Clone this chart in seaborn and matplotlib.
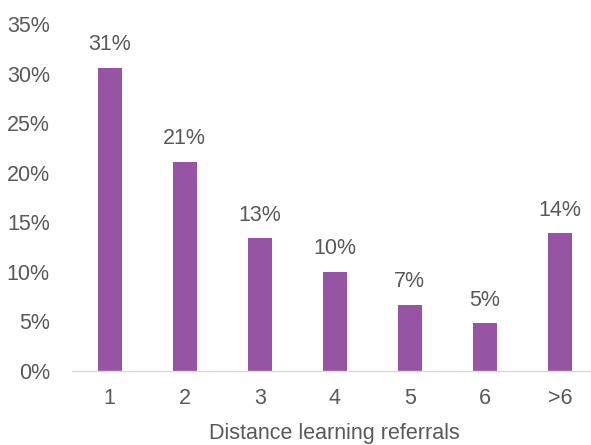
import matplotlib
matplotlib.use("Agg")
import matplotlib.pyplot as plt
import seaborn as sns
import pandas as pd
import numpy as np

categories = ["1", "2", "3", "4", "5", "6", ">6"]
shares = [30.6, 21.1, 13.4, 10.0, 6.7, 4.8, 13.9]
y_ticks = [0, 5, 10, 15, 20, 25, 30, 35]

df = pd.DataFrame({"referrals": categories, "share": shares})

sns.set_theme(style="white")
plt.rcParams["font.family"] = ["Liberation Sans Narrow", "Liberation Sans", "DejaVu Sans"]

text_color = "#595959"
bar_color = "#9655A3"
fs = 15.5

fig = plt.figure(figsize=(5.91, 4.45), dpi=100)
ax = fig.add_axes([72 / 591, 74 / 445, (597.5 - 72) / 591, (371 - 24) / 445])

sns.barplot(data=df, x="referrals", y="share", color=bar_color, width=0.32,
            saturation=1, ax=ax, edgecolor="none")

ax.set_ylim(0, 35)
ax.set_xlim(-0.5, 6.5)
ax.set_yticks(y_ticks)
ax.set_yticklabels([f"{v}%" for v in y_ticks], fontsize=fs, color=text_color)
ax.tick_params(axis="y", length=0, pad=16)

# category boundaries carry the tick marks, centres carry the labels
ax.set_xticks(np.arange(-0.5, 7, 1))
ax.set_xticklabels([])
ax.set_xticks(np.arange(len(categories)), minor=True)
ax.set_xticklabels(categories, minor=True, fontsize=fs, color=text_color)
ax.tick_params(axis="x", which="major", length=7, width=1, color="#D9D9D9", direction="out")
ax.tick_params(axis="x", which="minor", length=0, pad=12)

for side in ["top", "right", "left"]:
    ax.spines[side].set_visible(False)
ax.spines["bottom"].set_color("#D9D9D9")
ax.spines["bottom"].set_linewidth(1)

ax.set_xlabel("Distance learning referrals", fontsize=fs, color=text_color, labelpad=10)
ax.set_ylabel("")

for i, v in enumerate(shares):
    ax.annotate(f"{v:.0f}%", xy=(i, v), xytext=(0, 9), textcoords="offset points",
                ha="center", va="bottom", fontsize=fs, color=text_color)

fig.savefig("out.png", dpi=100)
